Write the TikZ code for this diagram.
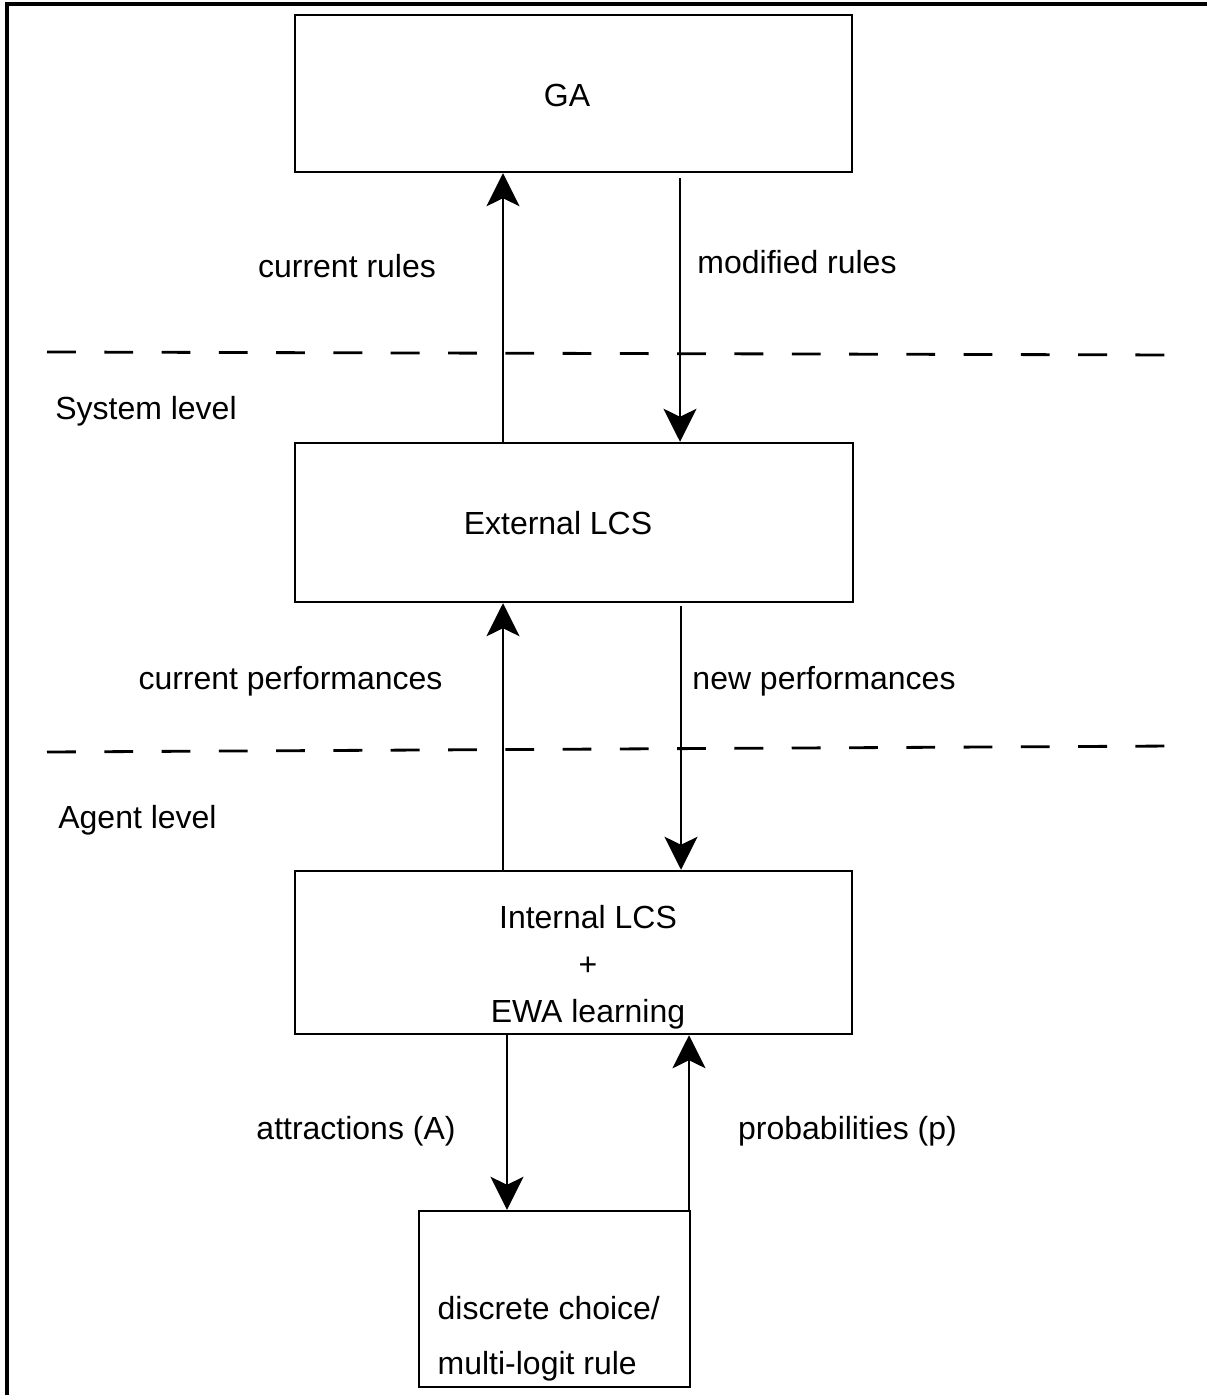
\documentclass[tikz,border=0pt]{standalone}
\usepackage{fontspec}
\setmainfont{Liberation Sans}
\usepackage{tikz}
\usetikzlibrary{positioning, arrows.meta, calc}
\newcommand{\lcsfont}{\fontsize{9.1pt}{13.3pt}\selectfont}

\begin{document}
\begin{tikzpicture}[>={Stealth[length=9.4pt, width=9.4pt, inset=2.3pt]},
		box/.style={draw, line width=0.7pt, inner sep=0pt},
		lbl/.style={font=\lcsfont, inner sep=0pt},
		arr/.style={->, line width=0.7pt},
		level/.style={line width=0.8pt, dash pattern=on 8.2pt off 8.1pt}]
		
		\useasboundingbox (0,0) rectangle (12.07,-13.95);
		
		% Draw frame
		\draw[line width=1pt] (0.07,-13.95) -- (0.07,-0.04) -- (12.07,-0.04);
		
		% Draw boxes
		\node[box, minimum width=5.57cm, minimum height=1.57cm] (ga) at (5.735,-0.935) {};
		\node[box, minimum width=5.58cm, minimum height=1.59cm] (ext) at (5.74,-5.225) {};
		\node[box, minimum width=5.57cm, minimum height=1.63cm] (int) at (5.735,-9.525) {};
		\node[box, minimum width=2.71cm, minimum height=1.76cm] (disc) at (5.545,-12.99) {};
		
		% Box texts
		\node[lbl, anchor=base] (gatext) at (5.67,-1.07) {GA};
		\node[lbl, anchor=base] (exttext) at (5.58,-5.34) {External LCS};
		\node[lbl, align=center] (inttext) at (5.88,-9.67) {Internal LCS\\+\\EWA learning};
		\node[lbl, align=left, anchor=west, font={\fontsize{9.1pt}{15.6pt}\selectfont}] (disctext) at (4.37,-13.39) {discrete choice/\\multi-logit rule};
		
		% Draw levels
		\foreach \ya/\yb in {-3.52/-3.55, -7.52/-7.46}
		\draw[level] (0.47,\ya) -- (11.74,\yb);
		\node[lbl, anchor=base] (system) at (1.46,-4.2) {System level};
		\node[lbl, anchor=base] (agent) at (1.375,-8.28) {Agent level};
		
		% Draw arrows
		\draw[arr] (ext.north -| 5.03,0) -- (ga.south -| 5.03,0);
		\draw[arr] ([yshift=-0.05cm]ga.south -| 6.80,0) -- (ext.north -| 6.80,0);
		\draw[arr] (int.north -| 5.03,0) -- (ext.south -| 5.03,0);
		\draw[arr] ([yshift=-0.03cm]ext.south -| 6.81,0) -- (int.north -| 6.81,0);
		\draw[arr] (int.south -| 5.07,0) -- (disc.north -| 5.07,0);
		\draw[arr] (disc.north -| 6.89,0) -- (int.south -| 6.89,0);
		
		% Add labels
		\node[lbl, anchor=base] (currules) at (3.47,-2.78) {current rules};
		\node[lbl, anchor=base] (modrules) at (7.97,-2.74) {modified rules};
		\node[lbl, anchor=base] (curperf) at (2.905,-6.89) {current performances};
		\node[lbl, anchor=base] (newperf) at (8.24,-6.89) {new performances};
		\node[lbl, anchor=base] (attr) at (3.56,-11.39) {attractions (A)};
		\node[lbl, anchor=base] (prob) at (8.475,-11.39) {probabilities (p)};
		
	\end{tikzpicture}
\end{document}
